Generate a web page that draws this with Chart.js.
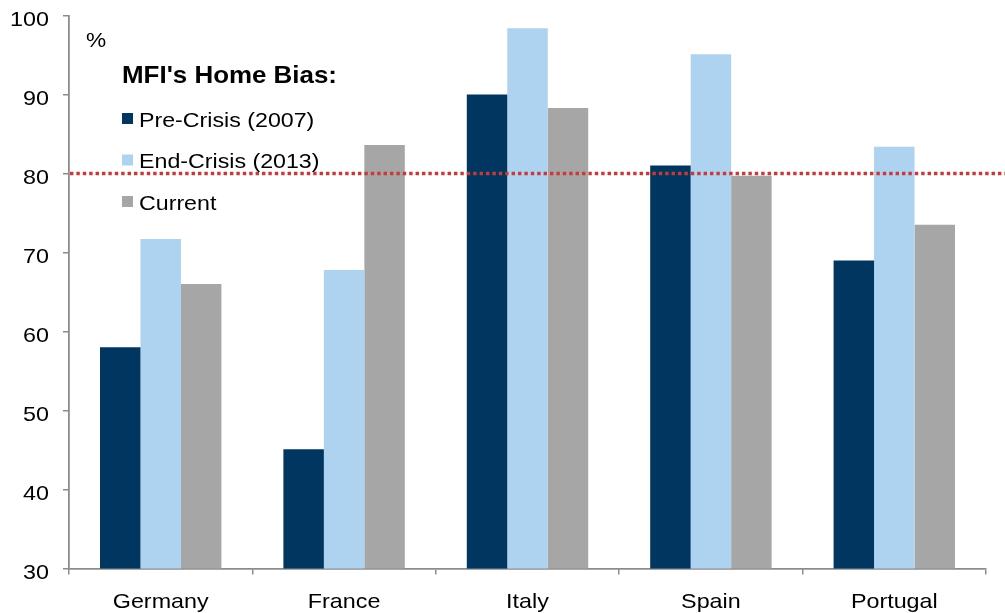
<!DOCTYPE html>
<html>
<head>
<meta charset="utf-8">
<script src="https://cdn.jsdelivr.net/npm/chart.js@4.4.1/dist/chart.umd.min.js"></script>
<style>
  html, body { margin: 0; padding: 0; background: #ffffff; }
  #wrap { width: 1005px; height: 613px; position: relative; }
</style>
</head>
<body>
<div id="wrap"><canvas id="chart"></canvas></div>
<script>
// Countries along the x axis
const categories = ['Germany', 'France', 'Italy', 'Spain', 'Portugal'];

// Share of domestic sovereign debt held by home MFIs, %
const preCrisis2007 = [58.0, 45.1, 90.0, 81.0, 69.0];
const endCrisis2013 = [71.7, 67.8, 98.4, 95.1, 83.4];
const current      = [66.0, 83.6, 88.3, 79.7, 73.5];

const seriesNames  = ['Pre-Crisis (2007)', 'End-Crisis (2013)', 'Current'];
const seriesColors = ['#00365f', '#aed3f0', '#a6a6a6'];

const yTickLabels = [30, 40, 50, 60, 70, 80, 90, 100];
const unitLabel   = '%';
const legendTitle = "MFI's Home Bias:";
const thresholdValue = 80;

const FONT = '"Liberation Sans", Arial, sans-serif';
const AXIS_GREY = '#8c8c8c';

// draws text with a horizontal stretch factor sx
function stretchedText(ctx, text, x, y, align, font, sx) {
  ctx.save();
  ctx.font = font;
  ctx.fillStyle = '#000000';
  ctx.textBaseline = 'alphabetic';
  ctx.translate(x, y);
  ctx.scale(sx, 1);
  ctx.textAlign = align;
  ctx.fillText(text, 0, 0);
  ctx.restore();
}

const thresholdLine = {
  id: 'thresholdLine',
  afterDatasetsDraw(chart) {
    const ctx = chart.ctx;
    const y = chart.scales.y.getPixelForValue(thresholdValue);
    ctx.save();
    ctx.strokeStyle = '#c83a3a';
    ctx.lineWidth = 3.4;
    ctx.setLineDash([3.4, 3.0]);
    ctx.beginPath();
    ctx.moveTo(chart.chartArea.left + 1, y);
    ctx.lineTo(chart.width, y);
    ctx.stroke();
    ctx.restore();
  }
};

const labelsAndLegend = {
  id: 'labelsAndLegend',
  afterDraw(chart) {
    const ctx = chart.ctx;
    const ys = chart.scales.y;
    const xs = chart.scales.x;
    const axisFont = '21px ' + FONT;
    const legendFont = '20px ' + FONT;

    // value axis labels
    yTickLabels.forEach(v => {
      stretchedText(ctx, String(v), 49, ys.getPixelForValue(v) + 10, 'right', axisFont, 1.11);
    });
    // category labels
    categories.forEach((c, i) => {
      stretchedText(ctx, c, xs.getPixelForValue(i), 607.5, 'center', axisFont, 1.11);
    });
    // unit
    stretchedText(ctx, unitLabel, 86, 46.5, 'left', axisFont, 1.08);

    // legend block
    stretchedText(ctx, legendTitle, 122, 83.3, 'left', 'bold 24px ' + FONT, 1.08);
    const rows = [118.5, 160, 201.5];
    seriesNames.forEach((name, i) => {
      ctx.save();
      ctx.fillStyle = seriesColors[i];
      ctx.fillRect(122, rows[i] - 5.5, 11, 11);
      ctx.restore();
      stretchedText(ctx, name, 139, rows[i] + 8.3, 'left', legendFont, 1.16);
    });
  }
};

new Chart(document.getElementById('chart'), {
  type: 'bar',
  data: {
    labels: categories,
    datasets: [
      { label: seriesNames[0], data: preCrisis2007, backgroundColor: seriesColors[0] },
      { label: seriesNames[1], data: endCrisis2013, backgroundColor: seriesColors[1] },
      { label: seriesNames[2], data: current,      backgroundColor: seriesColors[2] }
    ]
  },
  options: {
    responsive: true,
    maintainAspectRatio: false,
    animation: false,
    layout: { padding: { top: 15.5, right: 19, left: 0, bottom: 0 } },
    datasets: { bar: { categoryPercentage: 0.662, barPercentage: 1.0, borderWidth: 0 } },
    plugins: { legend: { display: false }, tooltip: { enabled: false }, title: { display: false } },
    scales: {
      x: {
        offset: true,
        grid: { display: true, drawOnChartArea: false, drawTicks: true, tickLength: 6,
                color: AXIS_GREY, lineWidth: 1.5, offset: true },
        border: { display: true, color: AXIS_GREY, width: 1.8 },
        ticks: { display: false },
        afterFit(s) { s.height = 44.5; }
      },
      y: {
        min: 30, max: 100,
        ticks: { display: false, stepSize: 10 },
        grid: { display: true, drawOnChartArea: false, drawTicks: true, tickLength: 6,
                color: AXIS_GREY, lineWidth: 1.5 },
        border: { display: true, color: AXIS_GREY, width: 1.8 },
        afterFit(s) { s.width = 69; }
      }
    }
  },
  plugins: [thresholdLine, labelsAndLegend]
});
</script>
</body>
</html>
